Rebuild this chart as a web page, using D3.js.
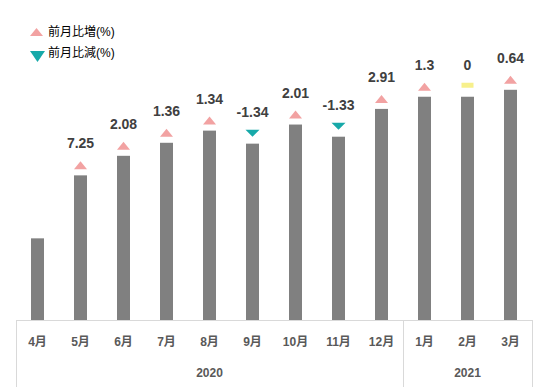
<!DOCTYPE html>
<html>
<head>
<meta charset="utf-8">
<script src="https://cdn.jsdelivr.net/npm/d3@7"></script>
<style>
	body { margin: 0; background: #fff; }
	text { font-family: "Liberation Sans", "Noto Sans CJK JP", sans-serif; }
</style>
</head>
<body>
<div id="chart"></div>
<script>
// months and years (two level category axis)
var months = ["4月", "5月", "6月", "7月", "8月", "9月", "10月", "11月", "12月", "1月", "2月", "3月"];
var years = [
	{ name: "2020", from: 0, to: 8 },
	{ name: "2021", from: 9, to: 11 }
];
// index (4月 = 100)
var values = [100, 107.25, 109.5, 111.0, 112.4, 110.9, 113.1, 111.7, 114.9, 116.3, 116.3, 117.1];
// month on month change (%)
var changes = [null, 7.25, 2.08, 1.36, 1.34, -1.34, 2.01, -1.33, 2.91, 1.3, 0, 0.64];

var width = 551, height = 387;
var margin = { top: 0, right: 19, bottom: 67, left: 16 };

var svg = d3.select("#chart").append("svg")
	.attr("width", width)
	.attr("height", height);

var x = d3.scaleBand().domain(d3.range(months.length))
	.range([margin.left, width - margin.right]);
var y = d3.scaleLinear().domain([90.6, 120]).range([height - margin.bottom, 64.6]);

var baseY = height - margin.bottom;
var barW = 13;

// bars
svg.append("g").selectAll("rect")
		.data(values)
	.enter().append("rect")
		.attr("x", (d, i) => x(i) + x.bandwidth() / 2 - barW / 2)
		.attr("y", d => y(d))
		.attr("width", barW)
		.attr("height", d => baseY - y(d))
		.attr("fill", "#808080");

// axis lines
var axis = svg.append("g").attr("stroke", "#d9d9d9").attr("stroke-width", 1);
axis.append("line")
	.attr("x1", x.range()[0]).attr("x2", x.range()[1])
	.attr("y1", baseY + 0.5).attr("y2", baseY + 0.5);
var edges = [0].concat(years.map(yr => yr.to + 1));
axis.selectAll("line.sep")
		.data(edges)
	.enter().append("line")
		.attr("class", "sep")
		.attr("x1", i => Math.round(i < months.length ? x(i) : x.range()[1]) + 0.5)
		.attr("x2", i => Math.round(i < months.length ? x(i) : x.range()[1]) + 0.5)
		.attr("y1", baseY)
		.attr("y2", height);

// month labels
svg.append("g").selectAll("text")
		.data(months)
	.enter().append("text")
		.attr("x", (d, i) => x(i) + x.bandwidth() / 2)
		.attr("y", baseY + 26)
		.attr("text-anchor", "middle")
		.attr("font-size", 12)
		.attr("font-weight", "bold")
		.attr("fill", "#595959")
		.text(d => d);

// year labels
svg.append("g").selectAll("text")
		.data(years)
	.enter().append("text")
		.attr("x", d => (x(d.from) + x(d.to) + x.bandwidth()) / 2)
		.attr("y", baseY + 57)
		.attr("text-anchor", "middle")
		.attr("font-size", 12)
		.attr("font-weight", "bold")
		.attr("fill", "#595959")
		.text(d => d.name);

// markers
var up = "#f2a2a2", down = "#17a9a9", flat = "#f7f08c";
var points = changes.map((c, i) => ({ i: i, change: c, value: values[i] }))
	.filter(p => p.change !== null);

var marks = svg.append("g").selectAll("g")
		.data(points)
	.enter().append("g")
		.attr("transform", p => "translate(" + (x(p.i) + x.bandwidth() / 2) + "," + (y(p.value) - 14) + ")");

marks.each(function(p){
	var g = d3.select(this);
	if(p.change > 0){
		g.append("path").attr("d", "M-6.5,8L0,0L6.5,8Z").attr("fill", up);
	}
	else if(p.change < 0){
		g.append("path").attr("d", "M-7,0L7,0L0,7Z").attr("fill", down);
	}
	else {
		g.append("rect").attr("x", -6).attr("y", 0).attr("width", 12).attr("height", 5).attr("fill", flat);
	}
});

marks.append("text")
	.attr("y", -13)
	.attr("text-anchor", "middle")
	.attr("font-size", 14)
	.attr("font-weight", "bold")
	.attr("fill", "#404040")
	.text(p => p.change);

// legend
var legend = svg.append("g").attr("transform", "translate(30,0)");
legend.append("path").attr("d", "M0,36L6.5,28L13,36Z").attr("fill", up);
legend.append("path").attr("d", "M0,51L15,51L7.5,62Z").attr("fill", down);
legend.append("text").attr("x", 18).attr("y", 36).attr("font-size", 12).attr("fill", "#000").text("前月比増(%)");
legend.append("text").attr("x", 18).attr("y", 57).attr("font-size", 12).attr("fill", "#000").text("前月比減(%)");
</script>
</body>
</html>
